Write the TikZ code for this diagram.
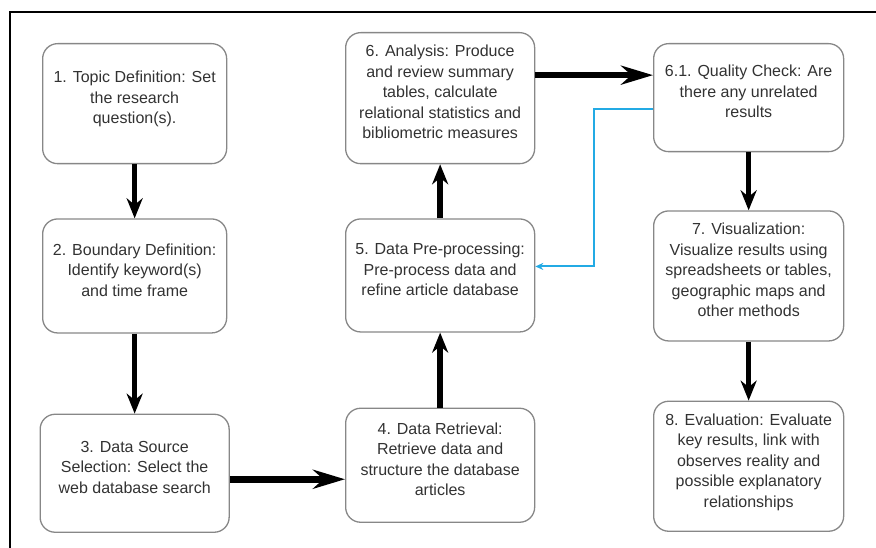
\documentclass[tikz,border=0pt]{standalone}
\usepackage{fontspec}
\setmainfont{Liberation Sans}
\usetikzlibrary{positioning,arrows.meta}

\definecolor{boxgray}{RGB}{135,135,135}
\definecolor{txtgray}{RGB}{50,50,50}
\definecolor{backblue}{RGB}{35,170,228}

\tikzset{
  basic/.style  = {draw=boxgray, line width=1.3pt, rectangle, rounded corners=15pt,
                   align=center, text=txtgray, inner sep=2pt, text depth=12pt,
                   font=\fontsize{16}{20.5}\selectfont},
  stage/.style  = {basic, minimum width=189pt},
  link/.style   = {-{Stealth[length=20pt,width=16pt]}, line width=5.5pt},
  hlink/.style  = {-{Stealth[length=32pt,width=19pt]}, line width=6.5pt},
  back/.style   = {draw=backblue, line width=1.9pt, -{Stealth[length=8pt,width=7pt]}}
}

\begin{document}
\begin{tikzpicture}[x=1pt, y=-1pt]
\useasboundingbox (0,0) rectangle (876,548);
\draw[line width=1.3pt] (10,548) -- (10,12) -- (876,12);

% The first column, top to bottom
\begin{scope}[every node/.style={stage}]
\node [anchor=north west, minimum width=184pt, minimum height=120pt] (s1) at (42,43)
  {1. Topic Definition: Set\\ the research\\ question(s).};
\node [below=54pt of s1, minimum width=184pt, minimum height=114pt] (s2)
  {2. Boundary Definition:\\ Identify keyword(s)\\ and time frame};
\node [below=80pt of s2, minimum height=118pt] (s3)
  {3. Data Source\\ Selection: Select the\\ web database search};
\end{scope}

% The second column, relatively positioned nodes
\begin{scope}[every node/.style={stage}]
\node [anchor=north west, minimum height=131pt] (s6) at (345,32)
  {6. Analysis: Produce\\ and review summary\\ tables, calculate\\ relational statistics and\\ bibliometric measures};
\node [below=54pt of s6, minimum height=113pt] (s5)
  {5. Data Pre-processing:\\ Pre-process data and\\ refine article database};
\node [below=75pt of s5, minimum height=114pt] (s4)
  {4. Data Retrieval:\\ Retrieve data and\\ structure the database\\ articles};
\end{scope}

% The third column
\begin{scope}[every node/.style={stage, minimum width=190pt}]
\node [anchor=north west, minimum height=108pt] (s61) at (653,43)
  {6.1. Quality Check: Are\\ there any unrelated\\ results};
\node [below=58pt of s61, minimum height=130pt] (s7)
  {7. Visualization:\\ Visualize results using\\ spreadsheets or tables,\\ geographic maps and\\ other methods};
\node [below=59pt of s7, minimum height=130pt] (s8)
  {8. Evaluation: Evaluate\\ key results, link with\\ observes reality and\\ possible explanatory\\ relationships};
\end{scope}

\foreach \from/\to in {s1/s2, s2/s3, s4/s5, s5/s6, s61/s7, s7/s8}
  \draw[link] (\from) -- (\to);

\draw[hlink] ([yshift=-6pt]s3.east) -- ([yshift=-6pt]s3.east -| s4.west);
\draw[hlink] ([yshift=23pt]s6.east) -- ([yshift=23pt]s6.east -| s61.west);

% going back for unrelated results
\draw[back] ([yshift=-11pt]s61.west) -- ++(-59,0) |- ([yshift=9pt]s5.east);

\end{tikzpicture}
\end{document}
